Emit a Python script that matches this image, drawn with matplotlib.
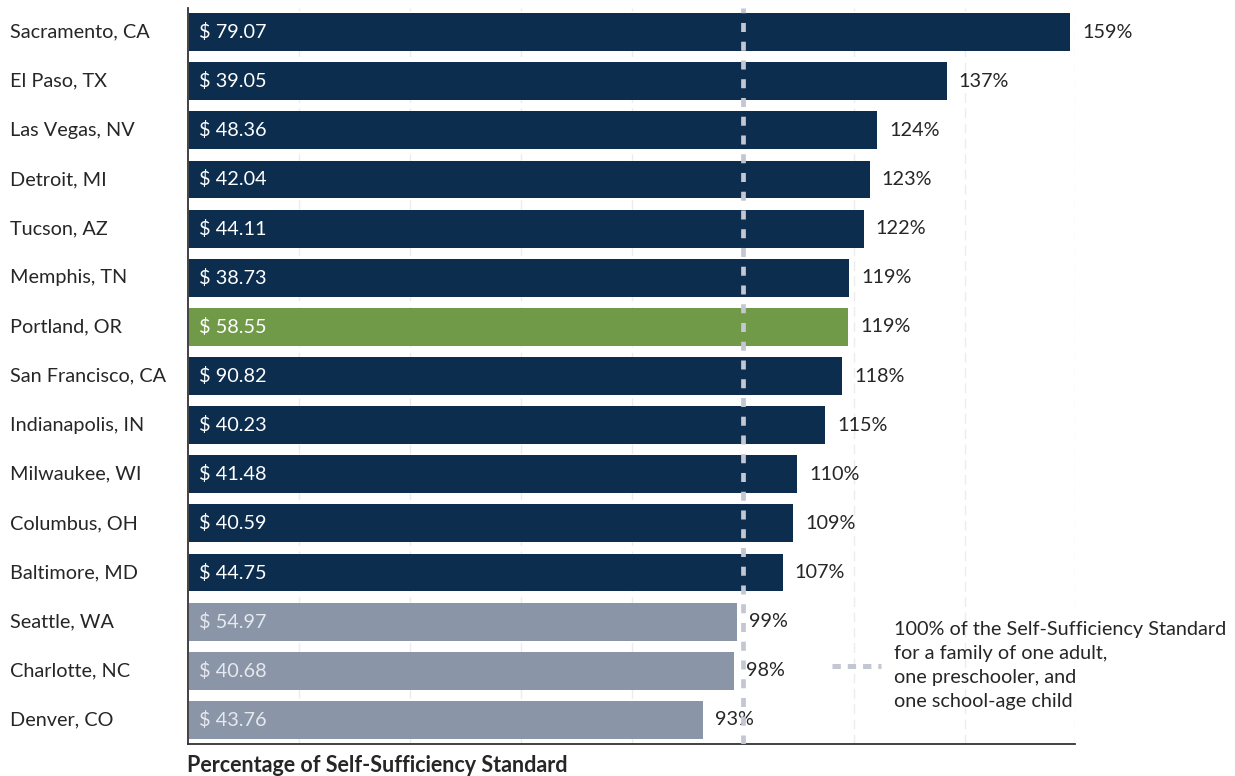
import numpy as np
import matplotlib
matplotlib.use("Agg")
import matplotlib.pyplot as plt
from matplotlib.transforms import blended_transform_factory

plt.rcParams['font.family'] = ['Lato', 'DejaVu Sans']
plt.rcParams['lines.scale_dashes'] = False

# data
cities = ["Sacramento, CA", "El Paso, TX", "Las Vegas, NV", "Detroit, MI", "Tucson, AZ",
          "Memphis, TN", "Portland, OR", "San Francisco, CA", "Indianapolis, IN",
          "Milwaukee, WI", "Columbus, OH", "Baltimore, MD", "Seattle, WA",
          "Charlotte, NC", "Denver, CO"]
pct = [158.9, 136.6, 124.0, 122.7, 121.6, 119.0, 118.8, 117.8, 114.7,
       109.6, 108.9, 107.0, 98.8, 98.2, 92.6]
wage = [79.07, 39.05, 48.36, 42.04, 44.11, 38.73, 58.55, 90.82, 40.23,
        41.48, 40.59, 44.75, 54.97, 40.68, 43.76]
highlight = "Portland, OR"

navy = "#0c2d4e"
green = "#719a48"
grey = "#8a95a7"
line_col = "#c3c7d2"
txt = "#262626"
fs = 14.3

fig = plt.figure(figsize=(12.35, 7.76), dpi=100)
ax = fig.add_axes([0.1522, 0.0412, 0.7186, 0.9485])

y = np.arange(len(cities))
colors = []
for c, p in zip(cities, pct):
    if c == highlight:
        colors.append(green)
    elif round(p) < 100:
        colors.append(grey)
    else:
        colors.append(navy)

# grid
for gx in range(20, 161, 20):
    if gx == 100:
        continue
    ax.axvline(gx, color="#ececec", lw=1, dashes=(7, 4), zorder=0)

bars = ax.barh(y, pct, height=0.77, color=colors, left=0.2, zorder=2)

for yi, p, w, col in zip(y, pct, wage, colors):
    inner = "#e6e9ee" if col == grey else "white"
    ax.annotate(f"$ {w:.2f}", (0, yi), xytext=(8, 0), textcoords="offset points",
                va="center", ha="left", color=inner, fontsize=fs, zorder=3)
    ax.annotate(f"{round(p)}%", (p, yi), xytext=(9.5, 0), textcoords="offset points",
                va="center", ha="left", color=txt, fontsize=fs, zorder=3)

ax.axvline(100, color=line_col, lw=3.4, dashes=(6.5, 7), zorder=4)

ax.set_xlim(0, 160)
ax.set_ylim(len(cities) - 1 + 0.49, -0.49)
ax.set_xticks([])
ax.set_yticks([])
for s in ["top", "right"]:
    ax.spines[s].set_visible(False)
ax.spines["left"].set_color("#333333")
ax.spines["bottom"].set_color("#333333")
ax.spines["left"].set_linewidth(1.3)
ax.spines["bottom"].set_linewidth(1.3)

# city labels
tr = blended_transform_factory(fig.transFigure, ax.transData)
for yi, c in zip(y, cities):
    ax.text(10 / 1235, yi, c, transform=tr, ha="left", va="center",
            fontsize=fs, color=txt)

fig.text(187 / 1235, 1 - 766 / 776, "Percentage of Self-Sufficiency Standard",
         fontsize=15.5, fontweight="bold", color=txt, ha="left", va="center")

# legend
ax.plot([116.2, 124.9], [12.9, 12.9], color=line_col, lw=3.6, dashes=(6, 5),
        clip_on=False, zorder=4)
ax.text(127.2, 12.9, "100% of the Self-Sufficiency Standard\nfor a family of one adult,\n"
        "one preschooler, and\none school-age child", ha="left", va="center",
        fontsize=fs, color=txt, linespacing=1.5)

fig.savefig("out.png", dpi=100)
